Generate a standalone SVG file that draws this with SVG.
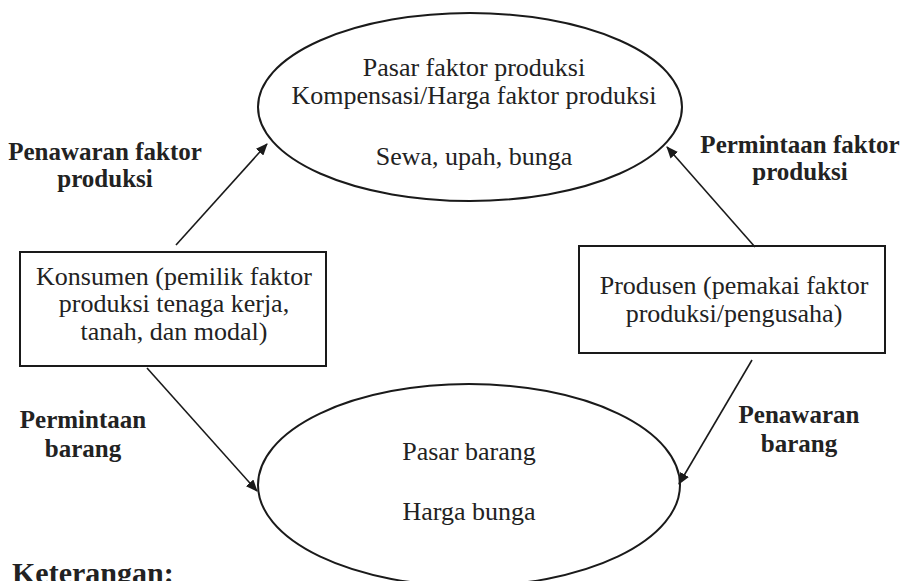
<svg xmlns="http://www.w3.org/2000/svg" width="903" height="581" viewBox="0 0 903 581">
<style>
.shape{fill:#fff;stroke:#1a1a1a;stroke-width:2}
.t{font-family:"Liberation Serif","Times New Roman",serif;font-size:26px;fill:#222;text-anchor:middle}
.b{font-family:"Liberation Serif","Times New Roman",serif;font-size:25px;font-weight:bold;fill:#222;text-anchor:middle}
.c{stroke:#1a1a1a;stroke-width:1.6;fill:none;marker-end:url(#ah)}
</style>
<defs>
<marker id="ah" viewBox="0 0 12 10" refX="11" refY="5" markerWidth="12" markerHeight="10" markerUnits="userSpaceOnUse" orient="auto">
<path d="M0,0 L12,5 L0,10 z" fill="#1a1a1a"/>
</marker>
</defs>
<rect width="903" height="581" fill="#fff"/>
<g id="pasar-faktor">
<ellipse class="shape" cx="470" cy="107" rx="212" ry="94"/>
<text class="t" x="474" y="76">Pasar faktor produksi</text>
<text class="t" x="474" y="104">Kompensasi/Harga faktor produksi</text>
<text class="t" x="474" y="165">Sewa, upah, bunga</text>
</g>
<g id="konsumen">
<rect class="shape" x="20" y="252" width="306" height="114"/>
<text class="t" x="174" y="285">Konsumen (pemilik faktor</text>
<text class="t" x="174" y="312">produksi tenaga kerja,</text>
<text class="t" x="174" y="340">tanah, dan modal)</text>
</g>
<g id="produsen">
<rect class="shape" x="579" y="246" width="306" height="107"/>
<text class="t" x="734" y="294">Produsen (pemakai faktor</text>
<text class="t" x="734" y="322">produksi/pengusaha)</text>
</g>
<g id="pasar-barang">
<ellipse class="shape" cx="469" cy="485" rx="211" ry="101"/>
<text class="t" x="469" y="460">Pasar barang</text>
<text class="t" x="469" y="520">Harga bunga</text>
</g>
<g id="connectors">
<line class="c" x1="176" y1="245" x2="267" y2="144"/>
<line class="c" x1="755" y1="247" x2="667" y2="147"/>
<line class="c" x1="147" y1="368" x2="257" y2="491"/>
<line class="c" x1="752" y1="360" x2="679" y2="484"/>
</g>
<g id="labels">
<text class="b" x="105" y="160">Penawaran faktor</text>
<text class="b" x="105" y="187">produksi</text>
<text class="b" x="800" y="153">Permintaan faktor</text>
<text class="b" x="800" y="180">produksi</text>
<text class="b" x="83" y="428">Permintaan</text>
<text class="b" x="83" y="457">barang</text>
<text class="b" x="799" y="423">Penawaran</text>
<text class="b" x="799" y="452">barang</text>
<text class="b" x="12" y="583" style="text-anchor:start;font-size:30px">Keterangan:</text>
</g>
</svg>
